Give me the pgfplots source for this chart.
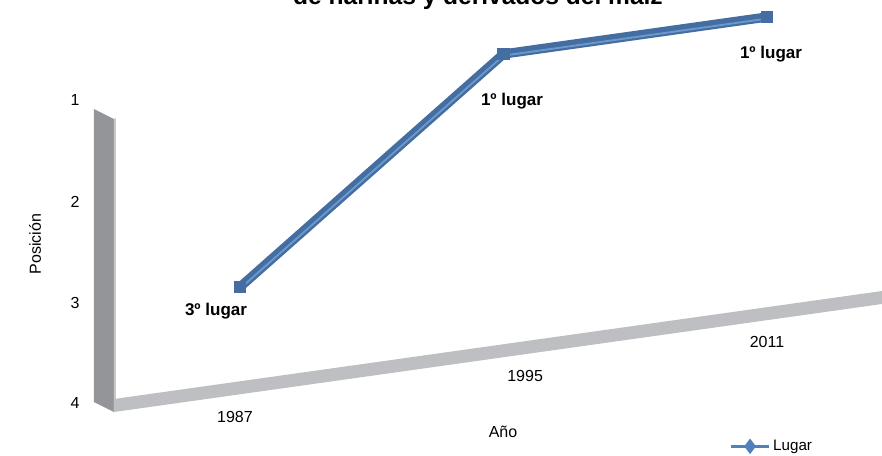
\documentclass[border=0pt]{standalone}
\usepackage{pgfplots}
\pgfplotsset{compat=1.18}
\usepackage{fontspec}
\setmainfont{Liberation Sans}
\definecolor{linedark}{RGB}{68,110,162}
\definecolor{linelight}{RGB}{108,152,204}
\definecolor{legblue}{RGB}{79,129,189}
\definecolor{floorgray}{RGB}{190,191,195}
\definecolor{wallgray}{RGB}{148,149,153}
\definecolor{wallside}{RGB}{200,200,203}
\begin{document}
\begin{tikzpicture}
\begin{axis}[
  x={(197.625pt,27.75pt)}, y={(0pt,-73.5pt)},
  xmin=-0.474, xmax=2.6, ymin=0.8, ymax=4,
  clip=false,
  axis line style={draw=none},
  major tick length=0pt,
  xtick={-0.019,1.082,2}, xticklabels={1987,1995,2011},
  ytick={1,2,3,4},
  yticklabels={\raisebox{12.8pt}{1},\raisebox{6.8pt}{2},\raisebox{2.2pt}{3},4},
  xticklabel pos=lower,
  yticklabel pos=lower,
  /pgf/number format/assume math mode=true,
  tick label style={font=\fontsize{12}{14}\selectfont},
  xticklabel style={anchor=center, yshift=-23.25pt},
  yticklabel style={anchor=center, xshift=-30pt},
  legend style={draw=none, fill=none, at={(axis cs:1.857,5.327)}, anchor=west,
    inner sep=0pt, font=\fontsize{11.4}{13}\selectfont},
  legend image code/.code={\draw[mark repeat=2,mark phase=2,#1] plot coordinates {(0pt,0pt) (14.25pt,0pt) (28.5pt,0pt)};},
]
\addplot[linedark, line width=7pt, mark=square*, mark size=4.3pt, mark options={fill=linedark, draw=linedark, line width=0.5pt}, forget plot]
  coordinates {(0,3) (1,1) (2,1)};
\addplot[linelight, line width=1.4pt, forget plot, yshift=-1.2pt]
  coordinates {(0,3) (1,1) (2,1)};
\coordinate (P0) at (axis cs:0,3);
\addlegendimage{legblue, line width=2.2pt, mark=diamond*, mark size=4pt, mark options={fill=legblue}}
\addlegendentry{Lugar}
\end{axis}
\begin{scope}[shift={(P0)}]
\begin{scope}[x=0.75pt,y=-0.75pt,shift={(-240,-287)}]
  % wall
  \fill[wallgray] (94,109) -- (114,119) -- (114,412) -- (94,402) -- cycle;
  \fill[wallside] (114,119) -- (116,118) -- (116,411) -- (114,412) -- cycle;
  % floor
  \fill[floorgray] (114,399) -- (882,291) -- (882,304) -- (114,412) -- cycle;
  % data labels
  \node[font=\bfseries\fontsize{12.75}{15}\selectfont] at (216,311) {3º lugar};
  \node[font=\bfseries\fontsize{12.75}{15}\selectfont] at (512,101) {1º lugar};
  \node[font=\bfseries\fontsize{12.75}{15}\selectfont] at (771,54) {1º lugar};
  % axis titles
  \node[font=\fontsize{12}{14}\selectfont, rotate=90] at (35,244) {Posición};
  \node[font=\fontsize{12}{14}\selectfont] at (503,432) {Año};
  % chart title (cut at top)
  \node[font=\bfseries\fontsize{18.4}{22}\selectfont, anchor=base] at (478,4) {de harinas y derivados del maíz};
  \pgfresetboundingbox
  \path[use as bounding box] (0,0) rectangle (882,455);
\end{scope}
\end{scope}
\end{tikzpicture}
\end{document}
